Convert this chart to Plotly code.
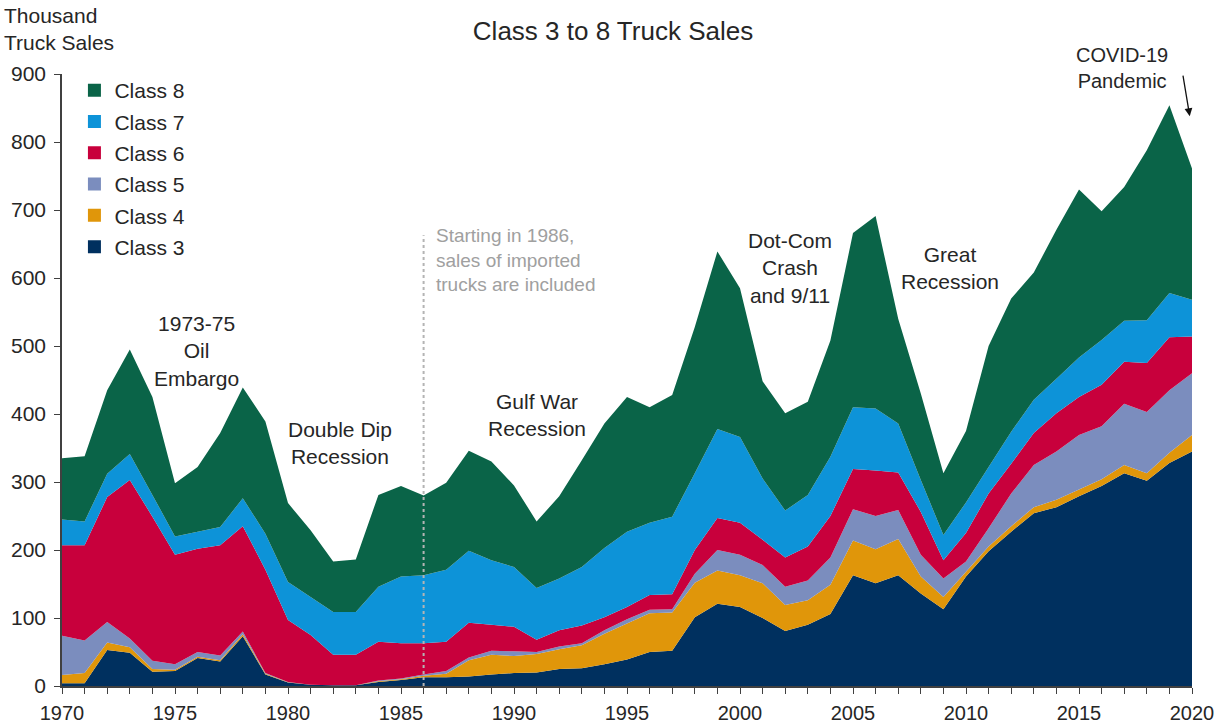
import plotly.graph_objects as go

years = list(range(1970, 2021))

class3 = [4, 4, 53, 49, 21, 22, 41, 36, 73, 17,
          5, 2, 1, 1, 6, 9, 13, 13, 14, 17,
          19, 20, 25, 26, 32, 39, 50, 52, 101, 121,
          116, 100, 81, 90, 106, 163, 151, 163, 136, 113,
          161, 198, 227, 254, 263, 279, 294, 313, 302, 328,
          345]
class4 = [12, 15, 11, 8, 4, 2, 2, 2, 3, 1,
          0.5, 0, 0, 0, 1, 1, 2, 5, 24, 29,
          25, 27, 29, 34, 45, 53, 57, 56, 51, 49,
          47, 51, 38, 36, 43, 51, 50, 53, 25, 18,
          7, 7, 8, 9, 11, 10, 10, 12, 11, 15,
          24]
class5 = [58, 48, 30, 13, 12, 8, 7, 7, 4, 1,
          0.5, 0, 0, 0, 1, 1, 2, 4, 4, 6,
          7, 3, 4, 3, 5, 6, 5, 5, 13, 30,
          30, 27, 27, 29, 40, 46, 49, 43, 32, 27,
          15, 27, 48, 62, 71, 80, 78, 90, 90, 92,
          91]
class6 = [133, 140, 184, 233, 212, 161, 152, 162, 155, 152,
          91, 73, 45, 45, 57, 52, 46, 43, 51, 38,
          36, 18, 24, 26, 19, 18, 22, 22, 35, 47,
          47, 37, 43, 50, 61, 59, 67, 55, 63, 27,
          42, 51, 44, 47, 56, 56, 61, 62, 72, 78,
          54]
class7 = [38, 35, 34, 38, 32, 27, 25, 27, 41, 53,
          56, 56, 63, 63, 81, 98, 100, 106, 106, 95,
          88, 76, 76, 86, 102, 111, 106, 114, 113, 131,
          126, 90, 69, 76, 87, 91, 91, 72, 47, 37,
          45, 39, 47, 49, 51, 58, 66, 60, 63, 65,
          54]
class8 = [90, 96, 123, 154, 144, 78, 95, 138, 163, 165,
          116, 98, 74, 77, 135, 133, 117, 128, 147, 145,
          120, 98, 121, 157, 183, 198, 170, 179, 215, 261,
          219, 143, 143, 137, 171, 256, 283, 154, 127, 91,
          105, 178, 196, 187, 219, 247, 189, 197, 250, 276,
          193]

series_names = ["Class 3", "Class 4", "Class 5", "Class 6", "Class 7", "Class 8"]
series_values = [class3, class4, class5, class6, class7, class8]
colors = ["#00305F", "#E0960A", "#7B8DBE", "#C8003C", "#0D93D8", "#0A6448"]

FONT = "Liberation Sans, Arial, sans-serif"
TXT = "#262626"

fig = go.Figure()
for name, vals, col in zip(series_names, series_values, colors):
    fig.add_trace(go.Scatter(
        x=years, y=vals, name=name, stackgroup="one", mode="none",
        fillcolor=col, showlegend=False, hoverinfo="x+y+name"))

# legend entries (square markers), Class 8 on top
for name, col in reversed(list(zip(series_names, colors))):
    fig.add_trace(go.Scatter(
        x=[None], y=[None], name=name, mode="markers",
        marker=dict(symbol="square", size=13, color=col),
        legendgroup=name, showlegend=True))

annotations = [
    dict(x=1975.95, y=493, text="1973-75<br>Oil<br>Embargo"),
    dict(x=1982.3, y=358, text="Double Dip<br>Recession"),
    dict(x=1991.0, y=399, text="Gulf War<br>Recession"),
    dict(x=2002.2, y=615, text="Dot-Com<br>Crash<br>and 9/11"),
    dict(x=2009.3, y=614, text="Great<br>Recession"),
]
ann_list = []
for a in annotations:
    ann_list.append(dict(x=a["x"], y=a["y"], xref="x", yref="y", text=a["text"],
                         showarrow=False, align="center", yanchor="middle",
                         font=dict(family=FONT, size=21, color=TXT)))
ann_list.append(dict(x=2016.9, y=1.0098, xref="x", yref="paper", yanchor="middle",
                     text="COVID-19<br>Pandemic", showarrow=False, align="center",
                     font=dict(family=FONT, size=20, color=TXT)))
ann_list.append(dict(x=1986.45, y=626, xref="x", yref="y", xanchor="left",
                     yanchor="middle",
                     text="Starting in 1986,<br>sales of imported<br>trucks are included",
                     showarrow=False, align="left",
                     font=dict(family=FONT, size=19, color="#A0A0A0")))
ann_list.append(dict(x=2019.9, y=838, xref="x", yref="y", text="", showarrow=True,
                     ax=-7, ay=-42, arrowhead=2, arrowsize=1.2, arrowwidth=1.3,
                     arrowcolor="#111111"))
ann_list.append(dict(x=-0.053, y=1.118, xref="paper", yref="paper", xanchor="left",
                     yanchor="top", text="Thousand<br>Truck Sales", showarrow=False,
                     align="left", font=dict(family=FONT, size=21, color=TXT)))

fig.update_layout(
    width=1226, height=725,
    margin=dict(l=62, r=34, t=74, b=39, autoexpand=False),
    paper_bgcolor="white", plot_bgcolor="white",
    font=dict(family=FONT, size=20, color=TXT),
    title=dict(text="Class 3 to 8 Truck Sales", x=0.5, xanchor="center",
               y=0.958, yanchor="middle",
               font=dict(family=FONT, size=26, color=TXT)),
    showlegend=True,
    legend=dict(x=0.011, y=1.0065, xanchor="left", yanchor="top",
                traceorder="grouped", tracegroupgap=1,
                bgcolor="rgba(0,0,0,0)", font=dict(family=FONT, size=21, color=TXT),
                itemwidth=30),
    annotations=ann_list,
    shapes=[dict(type="line", xref="x", yref="y", x0=1986, x1=1986, y0=0, y1=663,
                 line=dict(color="#B4B4B4", width=2, dash="dot"), layer="above")],
)
fig.update_xaxes(range=[1970, 2020], tickmode="linear", tick0=1970, dtick=5,
                 ticks="outside", ticklen=6, tickcolor="#404040", showline=True,
                 linecolor="#404040", linewidth=1.5, showgrid=False, zeroline=False,
                 ticklabelstandoff=2, automargin=False,
                 tickfont=dict(family=FONT, size=20, color=TXT),
                 minor=dict(dtick=1, tick0=1970, ticks="outside", ticklen=6,
                            tickcolor="#404040", showgrid=False))
fig.update_yaxes(range=[0, 900], tickmode="linear", tick0=0, dtick=100,
                 ticks="outside", ticklen=6, tickcolor="#404040", showline=True,
                 linecolor="#404040", linewidth=1.5, showgrid=False, zeroline=False,
                 ticklabelstandoff=4, automargin=False,
                 tickfont=dict(family=FONT, size=21, color=TXT))

fig.write_html("out.html", config={"displayModeBar": False},
               post_script="document.body.style.margin='0px';document.body.style.overflow='hidden';")
